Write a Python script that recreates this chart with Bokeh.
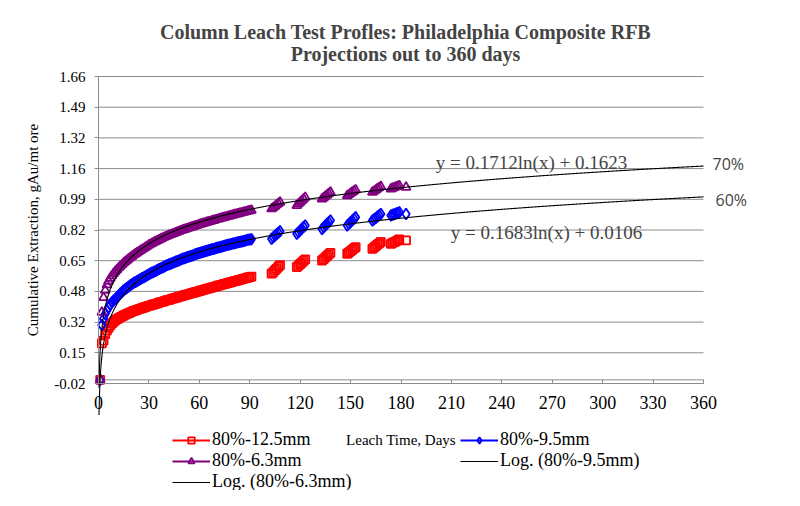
from bokeh.plotting import figure
from bokeh.models import (Label, Legend, LegendItem, FixedTicker, Range1d)
from bokeh.embed import file_html
from bokeh.resources import INLINE
import numpy as np

TITLE_LINES = ["Column Leach Test Profles: Philadelphia Composite RFB",
               "Projections out to 360 days"]
X_LABEL = "Leach Time, Days"
Y_LABEL = "Cumulative Extraction, gAu/mt ore"

X_TICKS = [0, 30, 60, 90, 120, 150, 180, 210, 240, 270, 300, 330, 360]
Y_TICKS = [-0.02, 0.148, 0.316, 0.484, 0.652, 0.82, 0.988, 1.156, 1.324, 1.492, 1.66]
Y_TICK_LABELS = ["-0.02", "0.15", "0.32", "0.48", "0.65", "0.82", "0.99",
                 "1.16", "1.32", "1.49", "1.66"]
X_MIN, X_MAX = 0, 360
Y_MIN, Y_MAX = -0.02, 1.66

SERIES_NAMES = ["80%-12.5mm", "80%-9.5mm", "80%-6.3mm"]
TREND_NAMES = ["Log. (80%-9.5mm)", "Log. (80%-6.3mm)"]

# sample days: daily to day 91, then groups of daily samples
DAYS = (list(range(1, 92))
        + [103, 104, 105, 106, 107, 108]
        + [118, 119, 120, 121, 122, 123]
        + [133, 134, 135, 136, 137, 138]
        + [148, 149, 150, 151, 152, 153]
        + [163, 164, 165, 166, 167, 168]
        + [174, 175, 176, 177, 178, 179]
        + [183])

EXT_12_5 = [
    0.000, 0.200, 0.215, 0.250, 0.270, 0.285, 0.298, 0.309, 0.318, 0.326,
    0.332, 0.337, 0.343, 0.347, 0.352, 0.357, 0.361, 0.365, 0.369, 0.373,
    0.377, 0.380, 0.383, 0.387, 0.390, 0.393, 0.396, 0.399, 0.402, 0.405,
    0.408, 0.411, 0.413, 0.416, 0.419, 0.422, 0.425, 0.427, 0.430, 0.433,
    0.436, 0.438, 0.441, 0.444, 0.446, 0.449, 0.452, 0.455, 0.457, 0.460,
    0.463, 0.465, 0.468, 0.470, 0.473, 0.476, 0.478, 0.481, 0.483, 0.486,
    0.489, 0.491, 0.494, 0.497, 0.499, 0.502, 0.504, 0.507, 0.509, 0.512,
    0.515, 0.517, 0.520, 0.522, 0.525, 0.527, 0.530, 0.532, 0.535, 0.537,
    0.540, 0.542, 0.545, 0.547, 0.550, 0.552, 0.555, 0.557, 0.560, 0.562,
    0.565,
    0.581, 0.590, 0.600, 0.609, 0.619, 0.628,
    0.617, 0.625, 0.634, 0.642, 0.651, 0.659,
    0.653, 0.661, 0.670, 0.678, 0.687, 0.695,
    0.690, 0.697, 0.704, 0.712, 0.719, 0.726,
    0.717, 0.725, 0.732, 0.740, 0.747, 0.755,
    0.744, 0.749, 0.754, 0.758, 0.763, 0.768,
    0.763]

EXT_9_5 = [
    0.000, 0.300, 0.335, 0.360, 0.380, 0.397, 0.412, 0.424, 0.434, 0.443,
    0.453, 0.462, 0.472, 0.481, 0.490, 0.497, 0.504, 0.511, 0.518, 0.525,
    0.531, 0.536, 0.541, 0.546, 0.552, 0.557, 0.562, 0.567, 0.573, 0.578,
    0.583, 0.587, 0.592, 0.596, 0.601, 0.606, 0.610, 0.615, 0.619, 0.624,
    0.628, 0.632, 0.635, 0.639, 0.643, 0.647, 0.651, 0.654, 0.658, 0.662,
    0.665, 0.668, 0.672, 0.675, 0.678, 0.681, 0.684, 0.688, 0.691, 0.694,
    0.697, 0.699, 0.702, 0.705, 0.708, 0.710, 0.713, 0.716, 0.718, 0.721,
    0.724, 0.726, 0.729, 0.731, 0.734, 0.736, 0.739, 0.741, 0.744, 0.746,
    0.748, 0.750, 0.753, 0.755, 0.757, 0.759, 0.761, 0.764, 0.766, 0.768,
    0.770,
    0.772, 0.780, 0.788, 0.797, 0.805, 0.813,
    0.799, 0.808, 0.817, 0.827, 0.836, 0.845,
    0.826, 0.835, 0.844, 0.854, 0.863, 0.872,
    0.845, 0.854, 0.863, 0.872, 0.881, 0.890,
    0.872, 0.879, 0.886, 0.894, 0.901, 0.908,
    0.899, 0.903, 0.906, 0.910, 0.913, 0.917,
    0.908]

EXT_6_3 = [
    0.000, 0.370, 0.450, 0.490, 0.520, 0.540, 0.556, 0.570, 0.582, 0.593,
    0.603, 0.613, 0.622, 0.631, 0.640, 0.648, 0.655, 0.663, 0.670, 0.677,
    0.684, 0.690, 0.696, 0.702, 0.708, 0.714, 0.720, 0.726, 0.732, 0.738,
    0.743, 0.748, 0.753, 0.757, 0.762, 0.767, 0.771, 0.776, 0.780, 0.784,
    0.788, 0.792, 0.795, 0.799, 0.802, 0.806, 0.810, 0.813, 0.817, 0.820,
    0.823, 0.826, 0.829, 0.832, 0.835, 0.838, 0.841, 0.844, 0.847, 0.850,
    0.853, 0.856, 0.858, 0.861, 0.864, 0.866, 0.869, 0.872, 0.874, 0.877,
    0.880, 0.882, 0.885, 0.887, 0.890, 0.892, 0.895, 0.897, 0.900, 0.902,
    0.905, 0.907, 0.909, 0.912, 0.914, 0.917, 0.919, 0.921, 0.924, 0.926,
    0.928,
    0.936, 0.943, 0.950, 0.958, 0.965, 0.972,
    0.954, 0.963, 0.972, 0.981, 0.990, 0.999,
    0.990, 0.997, 1.005, 1.012, 1.020, 1.027,
    1.008, 1.014, 1.021, 1.027, 1.034, 1.040,
    1.027, 1.033, 1.039, 1.046, 1.052, 1.058,
    1.045, 1.049, 1.052, 1.056, 1.059, 1.063,
    1.054]

# logarithmic trendlines shown on the chart: y = a*ln(x) + b
TREND_9_5 = (0.1683, 0.0106)
TREND_6_3 = (0.1712, 0.1623)
EQ_TEXTS = ["y = 0.1712ln(x) + 0.1623", "y = 0.1683ln(x) + 0.0106"]
PROJ_TEXTS = ["70%", "60%"]

RED, BLUE, PURPLE = "#FF0000", "#0000FF", "#800080"
GRID = "#8c8c8c"
SERIF = "Liberation Serif"

# the frame spans the whole canvas; the chart's plot area is 0..360 x -0.02..1.66
W, H = 784, 490
PA_LEFT, PA_RIGHT, PA_TOP, PA_BOTTOM = 98, 703, 76, 383
sx = (PA_RIGHT - PA_LEFT) / (X_MAX - X_MIN)
sy = (PA_BOTTOM - PA_TOP) / (Y_MAX - Y_MIN)
x_range = Range1d(X_MIN - PA_LEFT / sx, X_MAX + (W - PA_RIGHT) / sx)
y_range = Range1d(Y_MIN - (H - PA_BOTTOM) / sy, Y_MAX + PA_TOP / sy)


def at(xp, yp):
    """canvas pixel position -> data position (for text placement)"""
    return X_MIN + (xp - PA_LEFT) / sx, Y_MAX - (yp - PA_TOP) / sy


p = figure(width=W, height=H, title=None, x_range=x_range, y_range=y_range,
           output_backend="svg", toolbar_location=None,
           min_border_left=0, min_border_right=0, min_border_top=0, min_border_bottom=0)
p.outline_line_color = None
p.background_fill_color = "white"
p.border_fill_color = "white"
p.xgrid.visible = False
p.ygrid.visible = False

# horizontal gridlines over the plot area
p.segment(x0=X_MIN, x1=X_MAX, y0=Y_TICKS, y1=Y_TICKS, line_color=GRID, line_width=1)
# horizontal axis crossing at zero
p.segment(x0=[X_MIN], x1=[X_MAX], y0=[0], y1=[0], line_color=GRID, line_width=1)

# axes pinned to the plot area
xa, ya = p.xaxis[0], p.yaxis[0]
xa.fixed_location = Y_MIN
xa.bounds = (X_MIN, X_MAX)
ya.fixed_location = X_MIN
ya.bounds = (Y_MIN, Y_MAX)
xa.ticker = FixedTicker(ticks=X_TICKS)
ya.ticker = FixedTicker(ticks=Y_TICKS)
ya.major_label_overrides = {t: l for t, l in zip(Y_TICKS, Y_TICK_LABELS)}
for ax in (xa, ya):
    ax.axis_line_color = GRID
    ax.major_tick_line_color = GRID
    ax.minor_tick_line_color = None
    ax.major_label_text_font = SERIF
    ax.major_label_text_color = "black"
    ax.axis_label_text_font = SERIF
    ax.axis_label_text_font_style = "normal"
    ax.axis_label_text_color = "black"
xa.major_tick_in = 4
xa.major_tick_out = 0
xa.major_label_standoff = 12
xa.major_label_text_font_size = "18px"
xa.axis_label = X_LABEL
xa.axis_label_text_font_size = "15px"
xa.axis_label_standoff = 20
ya.major_tick_in = 0
ya.major_tick_out = 4
ya.major_label_standoff = 9
ya.major_label_text_font_size = "15px"
ya.axis_label = Y_LABEL
ya.axis_label_text_font_size = "15px"
ya.axis_label_standoff = 10

# data series
r_red = p.scatter(DAYS, EXT_12_5, marker="square", size=8, line_color=RED,
                  fill_color=None, line_width=1.8)
r_blue = p.scatter(DAYS, EXT_9_5, marker="diamond", size=11, line_color=BLUE,
                   fill_color=None, line_width=1.8)
r_purple = p.scatter(DAYS, EXT_6_3, marker="triangle", size=9, line_color=PURPLE,
                     fill_color=None, line_width=1.8)

# trendlines (projected to 360 days)
tx = np.linspace(0.3, X_MAX, 1200)
r_t95 = p.line(tx, TREND_9_5[0] * np.log(tx) + TREND_9_5[1], line_color="black", line_width=1.1)
r_t63 = p.line(tx, TREND_6_3[0] * np.log(tx) + TREND_6_3[1], line_color="black", line_width=1.1)

# legend-only line parts for the marker entries (nothing drawn in the plot)
l_red = p.line([np.nan], [np.nan], line_color=RED, line_width=2)
l_blue = p.line([np.nan], [np.nan], line_color=BLUE, line_width=2)
l_purple = p.line([np.nan], [np.nan], line_color=PURPLE, line_width=2)

leg_kw = dict(glyph_width=38, glyph_height=16, label_height=16, label_standoff=2,
              spacing=0, padding=0, margin=0, border_line_color=None,
              background_fill_alpha=0, label_text_font=SERIF,
              label_text_font_size="18px", label_text_color="black",
              label_text_baseline="middle")
leg1 = Legend(items=[LegendItem(label=SERIES_NAMES[0], renderers=[l_red, r_red]),
                     LegendItem(label=SERIES_NAMES[2], renderers=[l_purple, r_purple]),
                     LegendItem(label=TREND_NAMES[1], renderers=[r_t63])],
              location=(172, -2), **leg_kw)
leg2 = Legend(items=[LegendItem(label=SERIES_NAMES[1], renderers=[l_blue, r_blue]),
                     LegendItem(label=TREND_NAMES[0], renderers=[r_t95])],
              location=(460, 19), **leg_kw)
p.add_layout(leg1)
p.add_layout(leg2)


def txt(xp, yp, s, size, font=SERIF, style="normal", align="center"):
    x, y = at(xp, yp)
    p.add_layout(Label(x=x, y=y, text=s, text_align=align, text_baseline="middle",
                       text_font=font, text_font_style=style, text_font_size=size))


# title (two lines)
txt(405, 31, TITLE_LINES[0], "20px", style="bold")
txt(405, 53, TITLE_LINES[1], "20px", style="bold")
# trendline equations and projections
txt(531, 162, EQ_TEXTS[0], "19px")
txt(546, 232, EQ_TEXTS[1], "19px")
txt(712, 163, PROJ_TEXTS[0], "16px", font="Open Sans", align="left")
txt(715, 199, PROJ_TEXTS[1], "16px", font="Open Sans", align="left")

open("out.html", "w").write(file_html(p, INLINE))
